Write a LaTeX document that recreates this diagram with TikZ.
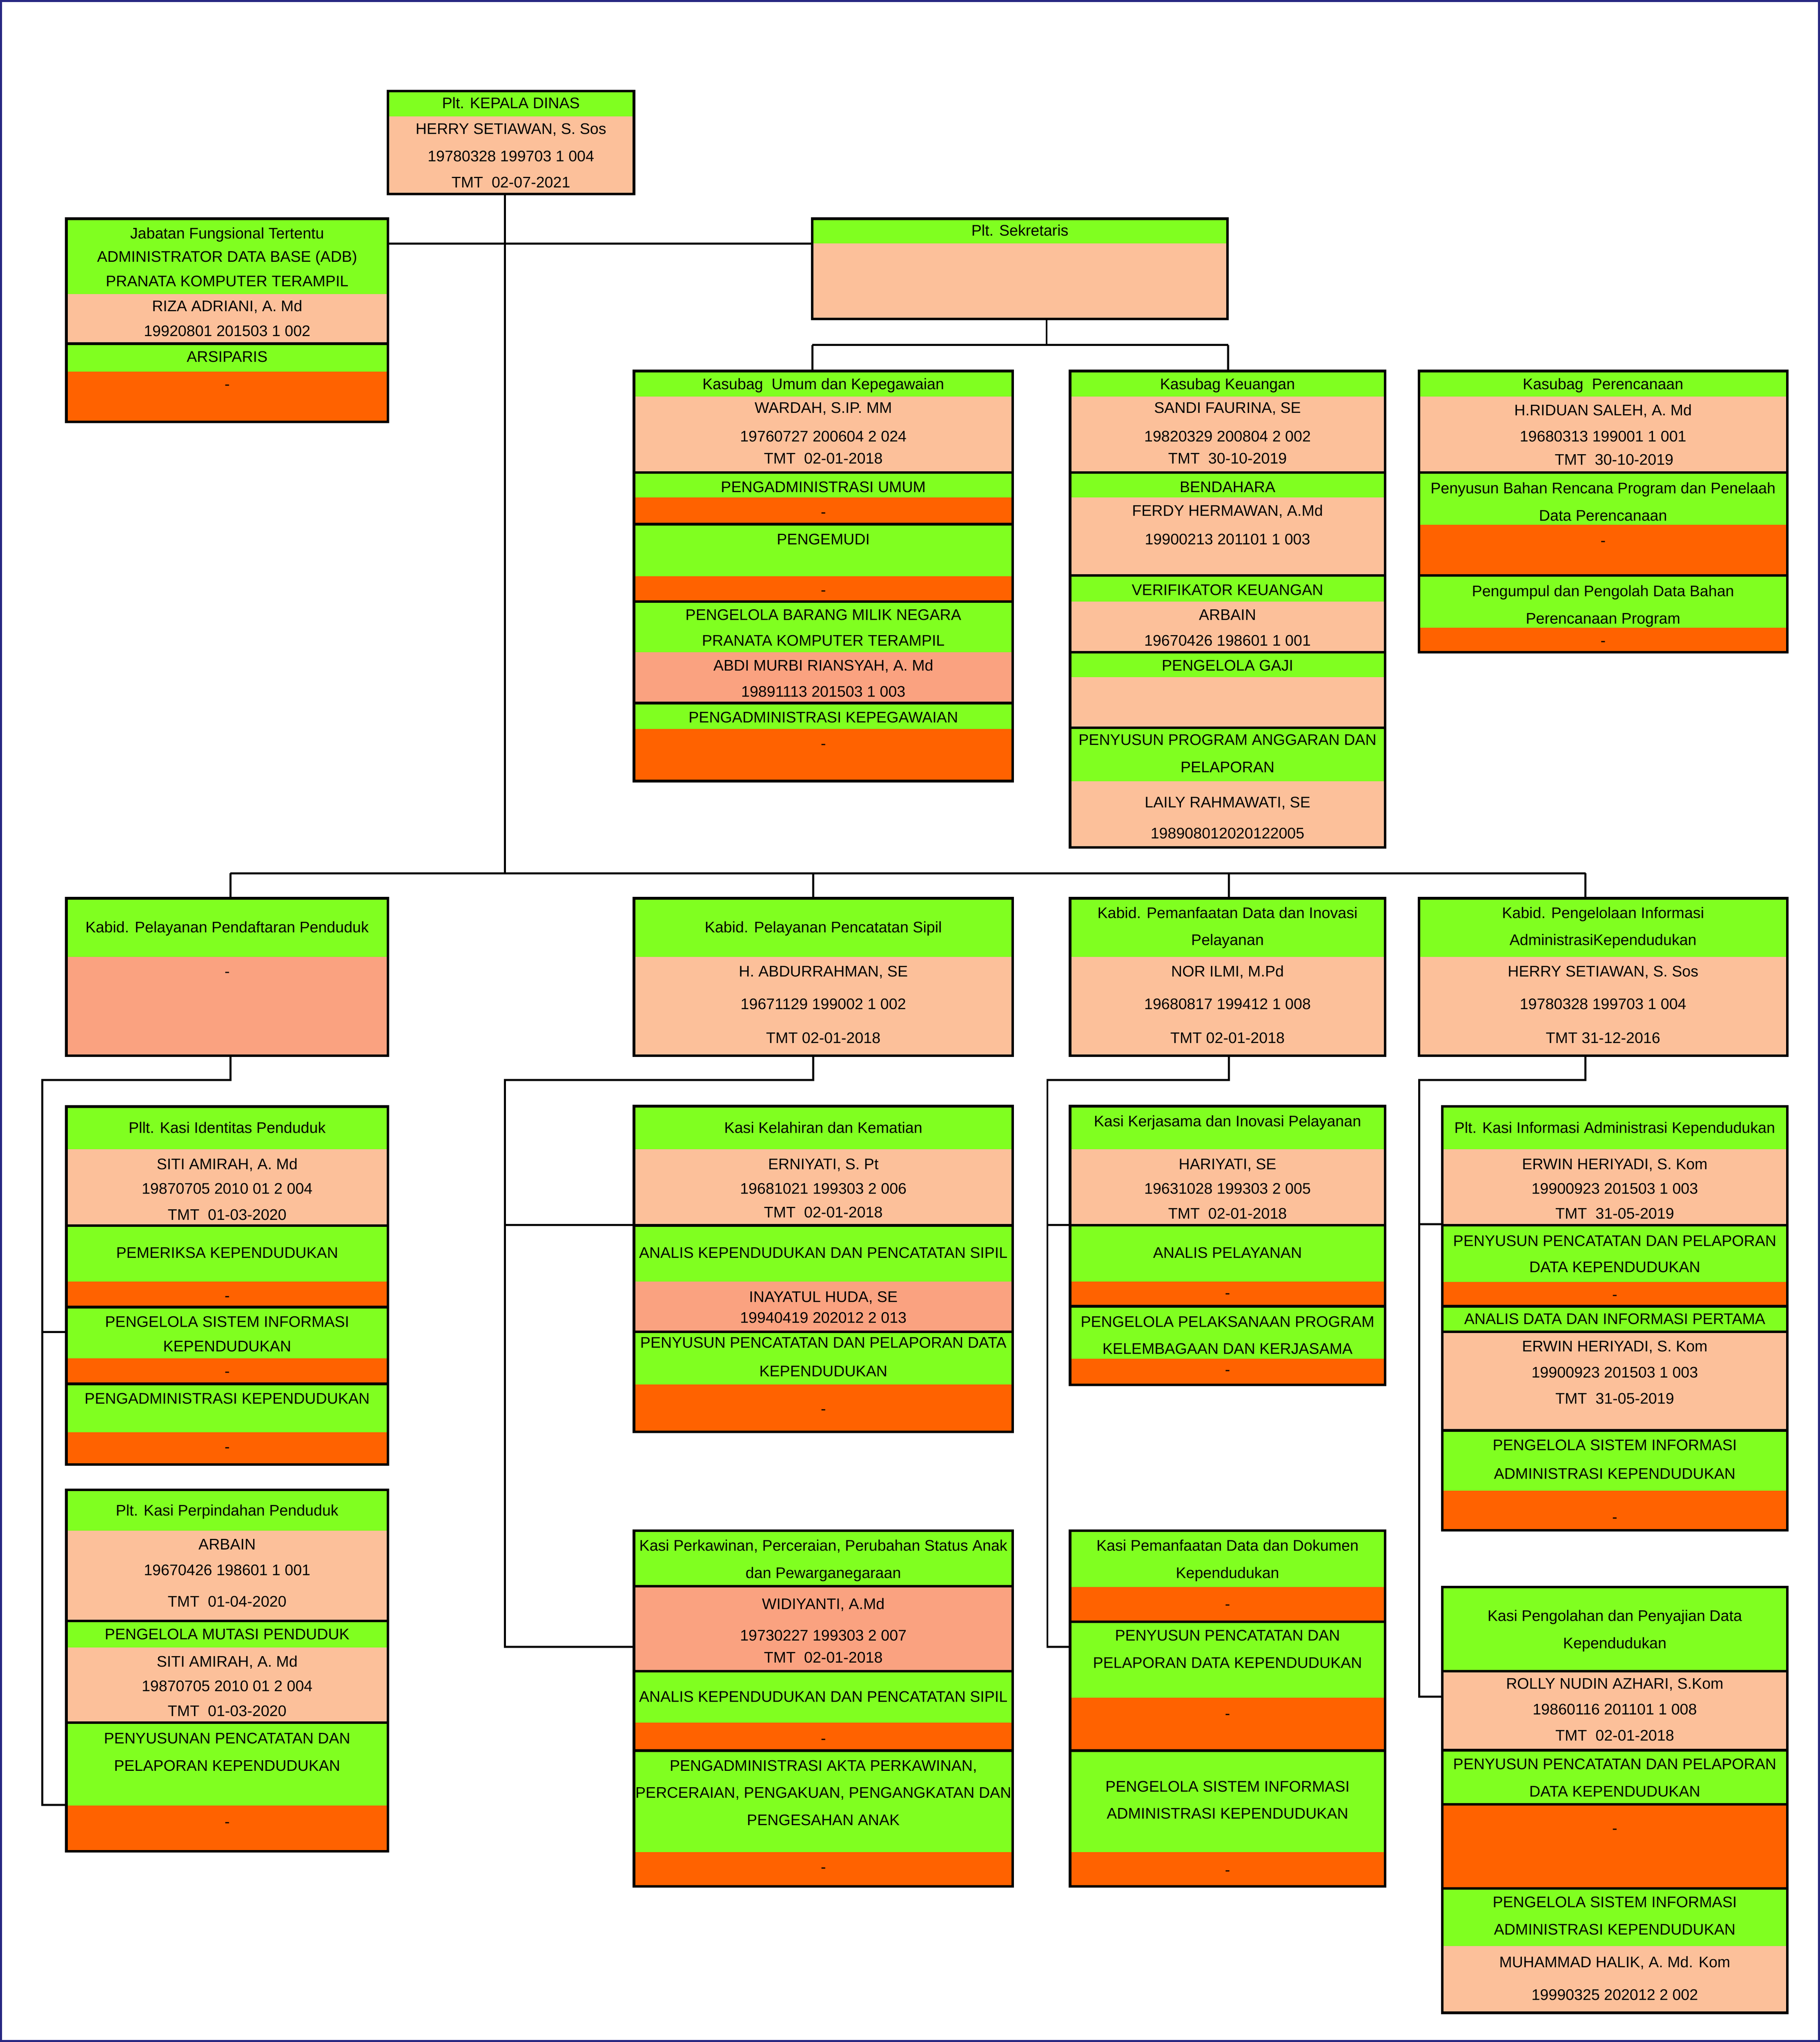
\documentclass[tikz,border=0pt]{standalone}
\usepackage{fontspec}
\setmainfont{Liberation Sans}
\definecolor{gr}{RGB}{128,255,32}
\definecolor{pe}{RGB}{252,192,154}
\definecolor{sa}{RGB}{250,162,128}
\definecolor{orn}{RGB}{255,98,0}
\definecolor{framec}{RGB}{40,40,130}
\pgfdeclarelayer{conns}
\pgfdeclarelayer{fills}
\pgfsetlayers{conns,fills,main}
\newcounter{tn}
\newcommand\tl[3]{\stepcounter{tn}\node[txt] (t\arabic{tn}) at (#1,{#2+4.2}) {#3};}
% name x1 x2 y1 ym y2 c1 c2
\newcommand\twobox[8]{%
 \begin{pgfonlayer}{fills}
 \node[cellst, fill=#7, minimum width={(#3-#2)*1pt}, minimum height={(#5-#4)*1pt}] (#1g) at ({(#2+#3)/2},{(#4+#5)/2}) {};
 \node[cellst, fill=#8, minimum width={(#3-#2)*1pt}, minimum height={(#6-#5)*1pt}] (#1b) at ({(#2+#3)/2},{(#5+#6)/2}) {};
 \end{pgfonlayer}
 \node[boxst, minimum width={(#3-#2)*1pt}, minimum height={(#6-#4)*1pt}] (#1) at ({(#2+#3)/2},{(#4+#6)/2}) {};}
% name x1 x2 y1 y2 c
\newcommand\onebox[6]{%
 \begin{pgfonlayer}{fills}
 \node[cellst, fill=#6, minimum width={(#3-#2)*1pt}, minimum height={(#5-#4)*1pt}] (#1g) at ({(#2+#3)/2},{(#4+#5)/2}) {};
 \end{pgfonlayer}
 \node[boxst, minimum width={(#3-#2)*1pt}, minimum height={(#5-#4)*1pt}] (#1) at ({(#2+#3)/2},{(#4+#5)/2}) {};}
\begin{document}
\begin{tikzpicture}[x=1pt,y=-1pt,
 cellst/.style={inner sep=0pt, outer sep=0pt, draw=none, rectangle},
 boxst/.style={draw=black, line width=2pt, inner sep=0pt, outer sep=0pt, rectangle},
 txt/.style={anchor=base, inner sep=0pt, font=\fontsize{11.8}{14}\selectfont},
 conn/.style={draw=black, line width=1.5pt}]
\useasboundingbox (0,0) rectangle (1398,1568.5);
\draw[framec, line width=1.5pt] (0.75,0.75) rectangle (1397.25,1567.75);

% ---- top
\twobox{kd}{298}{487}{70}{89.5}{149}{gr}{pe}
\twobox{jabA}{51}{298}{168}{226}{264}{gr}{pe}
\twobox{jabB}{51}{298}{264}{285.5}{324}{gr}{orn}
\twobox{sek}{624}{943}{168}{187}{245}{gr}{pe}

% ---- Kasubag Umum
\twobox{umA}{487}{778}{285}{304.5}{363}{gr}{pe}
\twobox{umB}{487}{778}{363}{382}{402.6}{gr}{orn}
\twobox{umC}{487}{778}{402.6}{442.5}{462}{gr}{orn}
\twobox{umD}{487}{778}{462}{501}{540}{gr}{sa}
\twobox{umE}{487}{778}{540}{560}{600}{gr}{orn}
% ---- Kasubag Keuangan
\twobox{keA}{822}{1064}{285}{304.5}{363}{gr}{pe}
\twobox{keB}{822}{1064}{363}{382}{442}{gr}{pe}
\twobox{keC}{822}{1064}{442}{462}{501}{gr}{pe}
\twobox{keD}{822}{1064}{501}{520}{559}{gr}{pe}
\twobox{keE}{822}{1064}{559}{600}{651}{gr}{pe}
% ---- Kasubag Perencanaan
\twobox{prA}{1090}{1373}{285}{304.5}{363}{gr}{pe}
\twobox{prB}{1090}{1373}{363}{403}{442}{gr}{orn}
\twobox{prC}{1090}{1373}{442}{482}{501}{gr}{orn}

% ---- Kabid row
\twobox{kb1}{51}{298}{690}{735}{811}{gr}{sa}
\twobox{kb2}{487}{778}{690}{735}{811}{gr}{pe}
\twobox{kb3}{822}{1064}{690}{735}{811}{gr}{pe}
\twobox{kb4}{1090}{1373}{690}{735}{811}{gr}{pe}

% ---- Column 1
\twobox{idA}{51}{298}{850}{882.6}{941.4}{gr}{pe}
\twobox{idB}{51}{298}{941.4}{984.5}{1004}{gr}{orn}
\twobox{idC}{51}{298}{1004}{1043.2}{1063}{gr}{orn}
\twobox{idD}{51}{298}{1063}{1100}{1125}{gr}{orn}
\twobox{ppA}{51}{298}{1144.3}{1175.8}{1245}{gr}{pe}
\twobox{ppB}{51}{298}{1245}{1265.4}{1323.2}{gr}{pe}
\twobox{ppC}{51}{298}{1323.2}{1387}{1422}{gr}{orn}

% ---- Column 2
\twobox{klA}{487}{778}{849.6}{882.6}{941.2}{gr}{pe}
\twobox{klB}{487}{778}{941.2}{984.3}{1023}{gr}{sa}
\twobox{klC}{487}{778}{1023}{1063.4}{1099.8}{gr}{orn}
\onebox{pkA}{487}{778}{1175.8}{1218.4}{gr}
\onebox{pkB}{487}{778}{1218.4}{1283.7}{sa}
\twobox{pkC}{487}{778}{1283.7}{1323.2}{1344.7}{gr}{orn}
\twobox{pkD}{487}{778}{1344.7}{1422.7}{1449}{gr}{orn}

% ---- Column 3
\twobox{kjA}{822}{1064}{849.6}{882.6}{941}{gr}{pe}
\twobox{kjB}{822}{1064}{941}{984.3}{1003.3}{gr}{orn}
\twobox{kjC}{822}{1064}{1003.3}{1043.6}{1063.7}{gr}{orn}
\twobox{pmA}{822}{1064}{1175.8}{1218.9}{1245.6}{gr}{orn}
\twobox{pmB}{822}{1064}{1245.6}{1303.9}{1344.7}{gr}{orn}
\twobox{pmC}{822}{1064}{1344.7}{1422.7}{1449}{gr}{orn}

% ---- Column 4
\twobox{inA}{1108}{1373}{849.9}{882.6}{941}{gr}{pe}
\twobox{inB}{1108}{1373}{941}{984.6}{1003.4}{gr}{orn}
\onebox{inC}{1108}{1373}{1003.4}{1023}{gr}
\onebox{inD}{1108}{1373}{1023}{1098.7}{pe}
\twobox{inE}{1108}{1373}{1098.7}{1145}{1175.5}{gr}{orn}
\onebox{poA}{1108}{1373}{1219}{1283.7}{gr}
\onebox{poB}{1108}{1373}{1283.7}{1344.3}{pe}
\onebox{poC}{1108}{1373}{1344.3}{1386}{gr}
\onebox{poD}{1108}{1373}{1386}{1450.5}{orn}
\twobox{poE}{1108}{1373}{1450.5}{1494.8}{1546}{gr}{pe}

% ---- connectors
\begin{pgfonlayer}{conns}
\coordinate (trk) at (388,670.8);
\coordinate (hl) at (388,187);
\draw[conn] (kd.south -| trk) -- (trk);
\draw[conn] (jabA.east |- hl) -- (sek.west |- hl);
\coordinate (sj) at (804,265);
\coordinate (bu) at (624,265);
\coordinate (bk) at (943.5,265);
\draw[conn] (sek.south -| sj) -- (sj);
\draw[conn] (bu) -- (bk);
\draw[conn] (bu) -- (umA.north -| bu);
\draw[conn] (bk) -- (keA.north -| bk);
\coordinate (k1) at (177,670.8);
\coordinate (k2) at (624.7,670.8);
\coordinate (k3) at (944,670.8);
\coordinate (k4) at (1218,670.8);
\draw[conn] (k1) -- (k4);
\foreach \i in {1,2,3,4} {\draw[conn] (k\i) -- (kb\i.north -| k\i);}
% column 1
\coordinate (d1) at (177,829.6);
\coordinate (t1a) at (32.4,829.6);
\coordinate (t1b) at (32.4,1386.3);
\coordinate (t1m) at (32.4,1023);
\draw[conn] (kb1.south -| d1) -- (d1) -- (t1a) -- (t1b) -- (ppC.west |- t1b);
\draw[conn] (t1m) -- (idC.west |- t1m);
% column 2
\coordinate (d2) at (624.7,829.6);
\coordinate (t2a) at (388,829.6);
\coordinate (t2b) at (388,1265);
\coordinate (t2m) at (388,941);
\draw[conn] (kb2.south -| d2) -- (d2) -- (t2a) -- (t2b) -- (pkB.west |- t2b);
\draw[conn] (t2m) -- (klA.west |- t2m);
% column 3
\coordinate (d3) at (944,829.6);
\coordinate (t3a) at (804.6,829.6);
\coordinate (t3b) at (804.6,1265);
\coordinate (t3m) at (804.6,941);
\draw[conn] (kb3.south -| d3) -- (d3) -- (t3a) -- (t3b) -- (pmB.west |- t3b);
\draw[conn] (t3m) -- (kjA.west |- t3m);
% column 4
\coordinate (d4) at (1218,829.6);
\coordinate (t4a) at (1090.2,829.6);
\coordinate (t4b) at (1090.2,1303.2);
\coordinate (t4m) at (1090.2,940.4);
\draw[conn] (kb4.south -| d4) -- (d4) -- (t4a) -- (t4b) -- (poB.west |- t4b);
\draw[conn] (t4m) -- (inA.west |- t4m);
\end{pgfonlayer}

% ---- texts: top
\tl{392.5}{79}{Plt. KEPALA DINAS}
\tl{392.5}{99}{HERRY SETIAWAN, S. Sos}
\tl{392.5}{120}{19780328 199703 1 004}
\tl{392.5}{140}{TMT\ \ 02-07-2021}

\tl{174.5}{179}{Jabatan Fungsional Tertentu}
\tl{174.5}{197}{ADMINISTRATOR DATA BASE (ADB)}
\tl{174.5}{216}{PRANATA KOMPUTER TERAMPIL}
\tl{174.5}{235}{RIZA ADRIANI, A. Md}
\tl{174.5}{254}{19920801 201503 1 002}
\tl{174.5}{274}{ARSIPARIS}
\tl{174.5}{295}{-}

\tl{783.5}{177}{Plt. Sekretaris}

% Umum
\tl{632.5}{295}{Kasubag\ \ Umum dan Kepegawaian}
\tl{632.5}{313}{WARDAH, S.IP. MM}
\tl{632.5}{335}{19760727 200604 2 024}
\tl{632.5}{352}{TMT\ \ 02-01-2018}
\tl{632.5}{374}{PENGADMINISTRASI UMUM}
\tl{632.5}{393}{-}
\tl{632.5}{414}{PENGEMUDI}
\tl{632.5}{453}{-}
\tl{632.5}{472}{PENGELOLA BARANG MILIK NEGARA}
\tl{632.5}{492}{PRANATA KOMPUTER TERAMPIL}
\tl{632.5}{511}{ABDI MURBI RIANSYAH, A. Md}
\tl{632.5}{531}{19891113 201503 1 003}
\tl{632.5}{551}{PENGADMINISTRASI KEPEGAWAIAN}
\tl{632.5}{571}{-}

% Keuangan
\tl{943}{295}{Kasubag Keuangan}
\tl{943}{313}{SANDI FAURINA, SE}
\tl{943}{335}{19820329 200804 2 002}
\tl{943}{352}{TMT\ \ 30-10-2019}
\tl{943}{374}{BENDAHARA}
\tl{943}{392}{FERDY HERMAWAN, A.Md}
\tl{943}{414}{19900213 201101 1 003}
\tl{943}{453}{VERIFIKATOR KEUANGAN}
\tl{943}{472}{ARBAIN}
\tl{943}{492}{19670426 198601 1 001}
\tl{943}{511}{PENGELOLA GAJI}
\tl{943}{568}{PENYUSUN PROGRAM ANGGARAN DAN}
\tl{943}{589}{PELAPORAN}
\tl{943}{616}{LAILY RAHMAWATI, SE}
\tl{943}{640}{198908012020122005}

% Perencanaan
\tl{1231.5}{295}{Kasubag\ \ Perencanaan}
\tl{1231.5}{315}{H.RIDUAN SALEH, A. Md}
\tl{1231.5}{335}{19680313 199001 1 001}
\tl{1240}{353}{TMT\ \ 30-10-2019}
\tl{1231.5}{375}{Penyusun Bahan Rencana Program dan Penelaah}
\tl{1231.5}{396}{Data Perencanaan}
\tl{1231.5}{415}{-}
\tl{1231.5}{454}{Pengumpul dan Pengolah Data Bahan}
\tl{1231.5}{475}{Perencanaan Program}
\tl{1231.5}{492}{-}

% Kabid
\tl{174.5}{712}{Kabid. Pelayanan Pendaftaran Penduduk}
\tl{174.5}{746}{-}
\tl{632.5}{712}{Kabid. Pelayanan Pencatatan Sipil}
\tl{632.5}{746}{H. ABDURRAHMAN, SE}
\tl{632.5}{771}{19671129 199002 1 002}
\tl{632.5}{797}{TMT 02-01-2018}
\tl{943}{701}{Kabid. Pemanfaatan Data dan Inovasi}
\tl{943}{722}{Pelayanan}
\tl{943}{746}{NOR ILMI, M.Pd}
\tl{943}{771}{19680817 199412 1 008}
\tl{943}{797}{TMT 02-01-2018}
\tl{1231.5}{701}{Kabid. Pengelolaan Informasi}
\tl{1231.5}{722}{AdministrasiKependudukan}
\tl{1231.5}{746}{HERRY SETIAWAN, S. Sos}
\tl{1231.5}{771}{19780328 199703 1 004}
\tl{1231.5}{797}{TMT 31-12-2016}

% Column 1
\tl{174.5}{866}{Pllt. Kasi Identitas Penduduk}
\tl{174.5}{894}{SITI AMIRAH, A. Md}
\tl{174.5}{913}{19870705 2010 01 2 004}
\tl{174.5}{933}{TMT\ \ 01-03-2020}
\tl{174.5}{962}{PEMERIKSA KEPENDUDUKAN}
\tl{174.5}{995}{-}
\tl{174.5}{1015}{PENGELOLA SISTEM INFORMASI}
\tl{174.5}{1034}{KEPENDUDUKAN}
\tl{174.5}{1053}{-}
\tl{174.5}{1074}{PENGADMINISTRASI KEPENDUDUKAN}
\tl{174.5}{1111}{-}
\tl{174.5}{1160}{Plt. Kasi Perpindahan Penduduk}
\tl{174.5}{1186}{ARBAIN}
\tl{174.5}{1206}{19670426 198601 1 001}
\tl{174.5}{1230}{TMT\ \ 01-04-2020}
\tl{174.5}{1255}{PENGELOLA MUTASI PENDUDUK}
\tl{174.5}{1276}{SITI AMIRAH, A. Md}
\tl{174.5}{1295}{19870705 2010 01 2 004}
\tl{174.5}{1314}{TMT\ \ 01-03-2020}
\tl{174.5}{1335}{PENYUSUNAN PENCATATAN DAN}
\tl{174.5}{1356}{PELAPORAN KEPENDUDUKAN}
\tl{174.5}{1399}{-}

% Column 2
\tl{632.5}{866}{Kasi Kelahiran dan Kematian}
\tl{632.5}{894}{ERNIYATI, S. Pt}
\tl{632.5}{913}{19681021 199303 2 006}
\tl{632.5}{931}{TMT\ \ 02-01-2018}
\tl{632.5}{962}{ANALIS KEPENDUDUKAN DAN PENCATATAN SIPIL}
\tl{632.5}{996}{INAYATUL HUDA, SE}
\tl{632.5}{1012}{19940419 202012 2 013}
\tl{632.5}{1031}{PENYUSUN PENCATATAN DAN PELAPORAN DATA}
\tl{632.5}{1053}{KEPENDUDUKAN}
\tl{632.5}{1082}{-}
\tl{632.5}{1187}{Kasi Perkawinan, Perceraian, Perubahan Status Anak}
\tl{632.5}{1208}{dan Pewarganegaraan}
\tl{632.5}{1232}{WIDIYANTI, A.Md}
\tl{632.5}{1256}{19730227 199303 2 007}
\tl{632.5}{1273}{TMT\ \ 02-01-2018}
\tl{632.5}{1303}{ANALIS KEPENDUDUKAN DAN PENCATATAN SIPIL}
\tl{632.5}{1335}{-}
\tl{632.5}{1356}{PENGADMINISTRASI AKTA PERKAWINAN,}
\tl{632.5}{1377}{PERCERAIAN, PENGAKUAN, PENGANGKATAN DAN}
\tl{632.5}{1398}{PENGESAHAN ANAK}
\tl{632.5}{1434}{-}

% Column 3
\tl{943}{861}{Kasi Kerjasama dan Inovasi Pelayanan}
\tl{943}{894}{HARIYATI, SE}
\tl{943}{913}{19631028 199303 2 005}
\tl{943}{932}{TMT\ \ 02-01-2018}
\tl{943}{962}{ANALIS PELAYANAN}
\tl{943}{993}{-}
\tl{943}{1015}{PENGELOLA PELAKSANAAN PROGRAM}
\tl{943}{1036}{KELEMBAGAAN DAN KERJASAMA}
\tl{943}{1052}{-}
\tl{943}{1187}{Kasi Pemanfaatan Data dan Dokumen}
\tl{943}{1208}{Kependudukan}
\tl{943}{1232}{-}
\tl{943}{1256}{PENYUSUN PENCATATAN DAN}
\tl{943}{1277}{PELAPORAN DATA KEPENDUDUKAN}
\tl{943}{1316}{-}
\tl{943}{1372}{PENGELOLA SISTEM INFORMASI}
\tl{943}{1393}{ADMINISTRASI KEPENDUDUKAN}
\tl{943}{1436}{-}

% Column 4
\tl{1240.5}{866}{Plt. Kasi Informasi Administrasi Kependudukan}
\tl{1240.5}{894}{ERWIN HERIYADI, S. Kom}
\tl{1240.5}{913}{19900923 201503 1 003}
\tl{1240.5}{932}{TMT\ \ 31-05-2019}
\tl{1240.5}{953}{PENYUSUN PENCATATAN DAN PELAPORAN}
\tl{1240.5}{973}{DATA KEPENDUDUKAN}
\tl{1240.5}{994}{-}
\tl{1240.5}{1013}{ANALIS DATA DAN INFORMASI PERTAMA}
\tl{1240.5}{1034}{ERWIN HERIYADI, S. Kom}
\tl{1240.5}{1054}{19900923 201503 1 003}
\tl{1240.5}{1074}{TMT\ \ 31-05-2019}
\tl{1240.5}{1110}{PENGELOLA SISTEM INFORMASI}
\tl{1240.5}{1132}{ADMINISTRASI KEPENDUDUKAN}
\tl{1240.5}{1165}{-}
\tl{1240.5}{1241}{Kasi Pengolahan dan Penyajian Data}
\tl{1240.5}{1262}{Kependudukan}
\tl{1240.5}{1293}{ROLLY NUDIN AZHARI, S.Kom}
\tl{1240.5}{1313}{19860116 201101 1 008}
\tl{1240.5}{1333}{TMT\ \ 02-01-2018}
\tl{1240.5}{1355}{PENYUSUN PENCATATAN DAN PELAPORAN}
\tl{1240.5}{1376}{DATA KEPENDUDUKAN}
\tl{1240.5}{1404}{-}
\tl{1240.5}{1461}{PENGELOLA SISTEM INFORMASI}
\tl{1240.5}{1482}{ADMINISTRASI KEPENDUDUKAN}
\tl{1240.5}{1507}{MUHAMMAD HALIK, A. Md. Kom}
\tl{1240.5}{1532}{19990325 202012 2 002}
\end{tikzpicture}
\end{document}
